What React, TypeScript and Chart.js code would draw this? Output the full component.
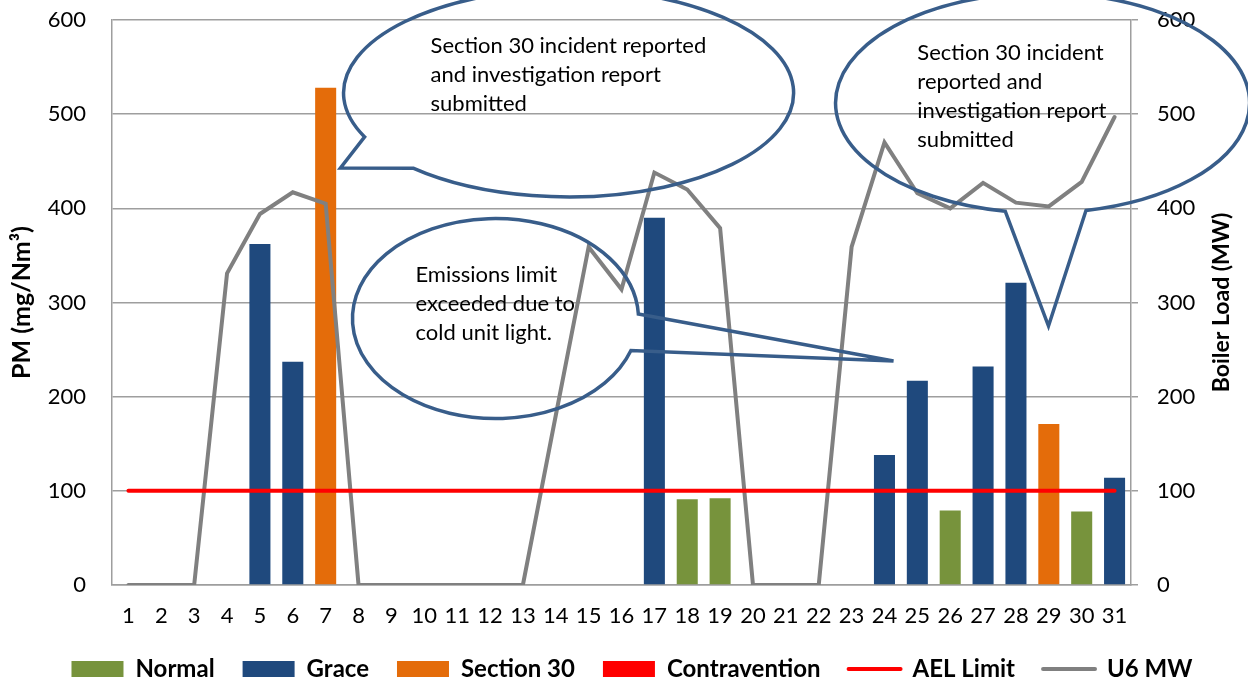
import React, { useEffect, useRef } from 'react';
import { Chart, registerables } from 'chart.js';

Chart.register(...registerables);

const days = ['1', '2', '3', '4', '5', '6', '7', '8', '9', '10', '11', '12', '13', '14', '15', '16', '17', '18', '19', '20', '21', '22', '23', '24', '25', '26', '27', '28', '29', '30', '31'];

const normal = [null, null, null, null, null, null, null, null, null, null, null, null, null, null, null, null, null, 91, 92, null, null, null, null, null, null, 79, null, null, null, 78, null];
const grace = [null, null, null, null, 362, 237, null, null, null, null, null, null, null, null, null, null, 390, null, null, null, null, null, null, 138, 217, null, 232, 321, null, null, 114];
const section30 = [null, null, null, null, null, null, 528, null, null, null, null, null, null, null, null, null, null, null, null, null, null, null, null, null, null, null, null, null, 171, null, null];
const contravention = [null, null, null, null, null, null, null, null, null, null, null, null, null, null, null, null, null, null, null, null, null, null, null, null, null, null, null, null, null, null, null];
const aelLimit = [100, 100, 100, 100, 100, 100, 100, 100, 100, 100, 100, 100, 100, 100, 100, 100, 100, 100, 100, 100, 100, 100, 100, 100, 100, 100, 100, 100, 100, 100, 100];
const u6mw = [0, 0, 0, 331, 394, 417, 405, 0, 0, 0, 0, 0, 0, 180, 359, 314, 438, 420, 379, 0, 0, 0, 359, 470, 416, 400, 427, 406, 402, 428, 497];

const pmAxis = { min: 0, max: 600, step: 100 };
const loadAxis = { min: 0, max: 600, step: 100 };

// Callouts, anchored in data units (day number, PM value)
const callouts = [
  {
    lines: ['Section 30 incident reported', 'and investigation report', 'submitted'],
    cx: 14.39, cy: 522.5, rx: 6.846, ry: 110.4, tail: [133.7, 155], tipX: 7.45, tipY: 442.8, textX: 10.19, textY: 565.0,
  },
  {
    lines: ['Section 30 incident', 'reported and', 'investigation report', 'submitted'],
    cx: 28.81, cy: 511.9, rx: 6.298, ry: 116.8, tail: [77.9, 100.4], tipX: 28.99, tipY: 275.0, textX: 25.0, textY: 557.5,
  },
  {
    lines: ['Emissions limit', 'exceeded due to', 'cold unit light.'],
    cx: 12.166, cy: 283.0, rx: 4.351, ry: 106.2, tail: [-2.6, 18.7], tipX: 24.275, tipY: 237.9, textX: 9.732, textY: 321.8,
  },
];

const FONT = 'Lato, "DejaVu Sans", sans-serif';
const GRID = '#9e9e9e';

const calloutPlugin = {
  id: 'callouts',
  afterLayout(chart: any) {
    if (chart.legend) {
      chart.legend.left += 8;
      chart.legend.right += 8;
    }
  },
  afterDatasetsDraw(chart: any) {
    const ctx = chart.ctx;
    const xs = chart.scales.x;
    const ys = chart.scales.y;
    const px = (d: number) => xs.getPixelForValue(d - 1);
    const py = (v: number) => ys.getPixelForValue(v);
    ctx.save();
    for (const c of callouts) {
      const cx = px(c.cx);
      const cy = py(c.cy);
      const rx = Math.abs(px(c.cx + c.rx) - cx);
      const ry = Math.abs(py(c.cy + c.ry) - cy);
      const a1 = (c.tail[0] * Math.PI) / 180;
      const a2 = (c.tail[1] * Math.PI) / 180;
      ctx.beginPath();
      ctx.ellipse(cx, cy, rx, ry, 0, a2, a1 + Math.PI * 2, false);
      ctx.lineTo(px(c.tipX), py(c.tipY));
      ctx.closePath();
      ctx.lineWidth = 3.5;
      ctx.strokeStyle = '#385d8a';
      ctx.lineJoin = 'miter';
      ctx.stroke();
      ctx.fillStyle = '#000';
      ctx.font = '22px ' + FONT;
      ctx.textAlign = 'left';
      ctx.textBaseline = 'alphabetic';
      const tx = px(c.textX);
      const ty = py(c.textY);
      c.lines.forEach((line, i) => ctx.fillText(line, tx, ty + i * 29));
    }
    ctx.restore();
  },
  afterDraw(chart: any) {
    const ctx = chart.ctx;
    const y1 = chart.scales.y1;
    const area = chart.chartArea;
    ctx.save();
    ctx.translate(y1.right - 26, (area.top + area.bottom) / 2);
    ctx.rotate(-Math.PI / 2);
    ctx.font = 'bold 23px ' + FONT;
    ctx.fillStyle = '#000';
    ctx.textAlign = 'center';
    ctx.textBaseline = 'middle';
    ctx.fillText('Boiler Load (MW)', 0, 0);
    ctx.restore();
  },
};

export default function App() {
  const ref = useRef<HTMLCanvasElement | null>(null);

  useEffect(() => {
    document.body.style.margin = '0';
    if (!ref.current) return;
    const chart = new Chart(ref.current, {
      type: 'bar',
      data: {
        labels: days,
        datasets: [
          { type: 'bar', label: 'Normal', data: normal, backgroundColor: '#77933c', yAxisID: 'y', stack: 'pm', order: 1 },
          { type: 'bar', label: 'Grace', data: grace, backgroundColor: '#1f497d', yAxisID: 'y', stack: 'pm', order: 1 },
          { type: 'bar', label: 'Section 30', data: section30, backgroundColor: '#e46c0a', yAxisID: 'y', stack: 'pm', order: 1 },
          { type: 'bar', label: 'Contravention', data: contravention, backgroundColor: '#ff0000', yAxisID: 'y', stack: 'pm', order: 1 },
          { type: 'line', label: 'AEL Limit', data: aelLimit, borderColor: '#ff0000', backgroundColor: '#ff0000', borderWidth: 4, pointRadius: 0, yAxisID: 'y', stack: 'ael', order: 0, borderCapStyle: 'round' },
          { type: 'line', label: 'U6 MW', data: u6mw, borderColor: '#808080', backgroundColor: '#808080', borderWidth: 4, pointRadius: 0, yAxisID: 'y1', order: 0, borderCapStyle: 'round' },
        ] as any,
      },
      options: {
        responsive: true,
        maintainAspectRatio: false,
        animation: false,
        layout: { padding: { top: 20, left: 0, right: 0, bottom: 0 } },
        datasets: { bar: { categoryPercentage: 1, barPercentage: 0.64 } } as any,
        scales: {
          x: {
            stacked: true,
            grid: { display: false },
            border: { display: true, color: GRID, width: 1.5 },
            ticks: { color: '#000', font: { family: FONT, size: 22 }, padding: 10, maxRotation: 0, autoSkip: false },
            afterFit: (s: any) => { s.height = 44; },
          },
          y: {
            position: 'left',
            stacked: true,
            min: pmAxis.min,
            max: pmAxis.max,
            ticks: { stepSize: pmAxis.step, color: '#000', font: { family: FONT, size: 22 }, padding: 26 },
            grid: { color: GRID, lineWidth: 1.5, drawTicks: false },
            border: { display: true, color: GRID, width: 1.5 },
            title: { display: true, text: 'PM (mg/Nm³)', color: '#000', font: { family: FONT, size: 25, weight: 'bold' }, padding: { top: 7, bottom: 4 } },
            afterFit: (s: any) => { s.width = 112; s.paddingTop = 0; s.paddingBottom = 0; },
          },
          y1: {
            position: 'right',
            min: loadAxis.min,
            max: loadAxis.max,
            ticks: { stepSize: loadAxis.step, color: '#000', font: { family: FONT, size: 22 }, padding: 19 },
            grid: { drawOnChartArea: false, drawTicks: true, tickLength: 7, color: GRID, lineWidth: 1.5 },
            border: { display: true, color: GRID, width: 1.5 },
            afterFit: (s: any) => { s.width = 117; s.paddingTop = 0; s.paddingBottom = 0; },
          },
        },
        plugins: {
          tooltip: { enabled: false },
          legend: {
            position: 'bottom',
            labels: {
              color: '#000',
              font: { family: FONT, size: 24, weight: 'bold' },
              usePointStyle: true,
              pointStyleWidth: 52,
              boxHeight: 16,
              padding: 28,
              generateLabels: (ch: any) =>
                ch.data.datasets.map((ds: any, i: number) => ({
                  text: ds.label,
                  fillStyle: ds.type === 'line' ? ds.borderColor : ds.backgroundColor,
                  strokeStyle: ds.type === 'line' ? ds.borderColor : ds.backgroundColor,
                  lineWidth: ds.type === 'line' ? 4 : 0,
                  lineCap: 'round',
                  pointStyle: ds.type === 'line' ? 'line' : 'rect',
                  hidden: false,
                  datasetIndex: i,
                  fontColor: '#000',
                })),
            },
          },
        },
      } as any,
      plugins: [calloutPlugin],
    });
    return () => chart.destroy();
  }, []);

  return (
    <div style={{ position: 'fixed', left: 0, top: 0, width: 1248, height: 691, background: '#fff' }}>
      <canvas ref={ref} />
    </div>
  );
}
